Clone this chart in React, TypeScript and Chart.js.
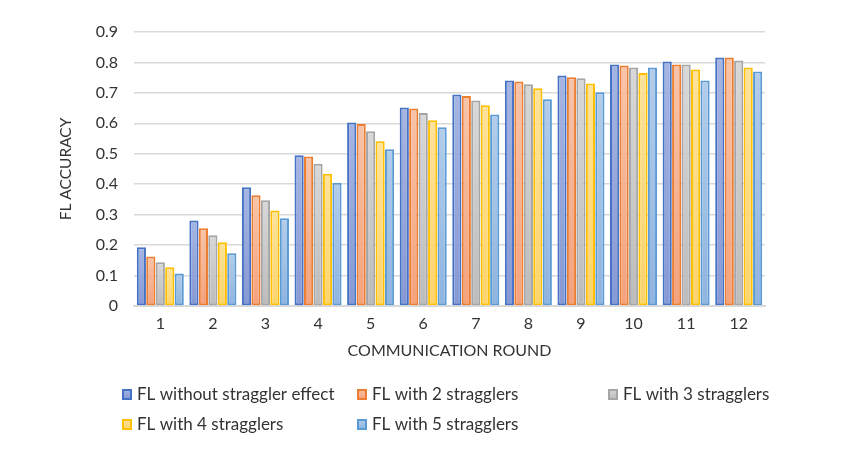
import React, { useEffect, useRef } from "react";
import { Chart, registerables } from "chart.js";

Chart.register(...registerables);

const rounds = ["1", "2", "3", "4", "5", "6", "7", "8", "9", "10", "11", "12"];
const noStraggler = [0.193, 0.281, 0.39, 0.495, 0.603, 0.652, 0.695, 0.741, 0.757, 0.793, 0.803, 0.816];
const twoStragglers = [0.163, 0.255, 0.364, 0.491, 0.598, 0.649, 0.69, 0.737, 0.751, 0.79, 0.793, 0.816];
const threeStragglers = [0.144, 0.232, 0.347, 0.467, 0.574, 0.634, 0.675, 0.728, 0.748, 0.783, 0.793, 0.806];
const fourStragglers = [0.127, 0.209, 0.314, 0.434, 0.541, 0.61, 0.659, 0.715, 0.731, 0.765, 0.777, 0.783];
const fiveStragglers = [0.107, 0.173, 0.288, 0.405, 0.515, 0.587, 0.629, 0.679, 0.702, 0.783, 0.741, 0.77];

const seriesNames = [
  "FL without straggler effect",
  "FL with 2 stragglers",
  "FL with 3 stragglers",
  "FL with 4 stragglers",
  "FL with 5 stragglers",
];
const seriesValues = [noStraggler, twoStragglers, threeStragglers, fourStragglers, fiveStragglers];
const borderColors = ["#4472C4", "#ED7D31", "#A5A5A5", "#FFC000", "#5B9BD5"];
const fillTop = ["#a6b5e2", "#f8c4a9", "#d8d8d8", "#ffe29b", "#b3cdea"];
const fillBottom = ["#8799d5", "#f4a27c", "#bcbcbc", "#ffd46c", "#8fb4df"];

const FONT = "Lato, 'Open Sans', sans-serif";
const TEXT = "#333333";

function gradFill(i: number) {
  return (c: any) => {
    const chart = c.chart;
    if (!chart.chartArea || c.type !== "data") return fillTop[i];
    const ys = chart.scales.y;
    const yTop = ys.getPixelForValue(c.parsed.y);
    const yBot = ys.getPixelForValue(0);
    if (!isFinite(yTop) || !isFinite(yBot) || yTop === yBot) return fillTop[i];
    const g = chart.ctx.createLinearGradient(0, yTop, 0, yBot);
    g.addColorStop(0, fillTop[i]);
    g.addColorStop(1, fillBottom[i]);
    return g;
  };
}

const legendPlugin = {
  id: "gridLegend",
  afterDraw(chart: any) {
    const ctx = chart.ctx;
    const cols = [122, 357, 608];
    const rows = [394, 424];
    ctx.save();
    ctx.font = `17px ${FONT}`;
    ctx.textBaseline = "middle";
    ctx.textAlign = "left";
    chart.data.datasets.forEach((ds: any, i: number) => {
      const x = cols[i % 3];
      const y = rows[Math.floor(i / 3)];
      const g = ctx.createLinearGradient(0, y - 5, 0, y + 5);
      g.addColorStop(0, fillTop[i]);
      g.addColorStop(1, fillBottom[i]);
      ctx.fillStyle = g;
      ctx.fillRect(x + 1, y - 4, 8, 9);
      ctx.strokeStyle = borderColors[i];
      ctx.lineWidth = 2;
      ctx.strokeRect(x + 1, y - 4, 8, 9);
      ctx.fillStyle = TEXT;
      ctx.fillText(ds.label, x + 15, y + 1);
    });
    ctx.restore();
  },
};

export default function App() {
  const ref = useRef<HTMLCanvasElement | null>(null);
  useEffect(() => {
    if (!ref.current) return;
    const chart = new Chart(ref.current, {
      type: "bar",
      data: {
        labels: rounds,
        datasets: seriesValues.map((vals, i) => ({
          label: seriesNames[i],
          data: vals,
          backgroundColor: gradFill(i),
          borderColor: borderColors[i],
          borderWidth: 2,
          borderSkipped: false,
          categoryPercentage: 0.9,
          barPercentage: 0.97,
        })),
      },
      options: {
        animation: false,
        responsive: true,
        maintainAspectRatio: false,
        layout: { padding: { left: 53, top: 32, right: 95, bottom: 102 } },
        plugins: { legend: { display: false }, tooltip: { enabled: false } },
        scales: {
          x: {
            grid: { display: false, drawTicks: false },
            border: { display: true, color: "#d9d9d9", width: 2 },
            ticks: { color: TEXT, font: { family: FONT, size: 16 }, padding: 8 },
            title: {
              display: true,
              text: "COMMUNICATION ROUND",
              color: TEXT,
              font: { family: FONT, size: 16 },
            },
            afterFit: (s: any) => {
              s.height = 58;
            },
          },
          y: {
            min: 0,
            max: 0.9,
            ticks: {
              stepSize: 0.1,
              color: TEXT,
              font: { family: FONT, size: 16 },
              padding: 16,
              callback: (v: any) => String(Math.round(Number(v) * 10) / 10),
            },
            grid: { color: "#d9d9d9", lineWidth: 1.5, drawTicks: false },
            border: { display: false },
            title: {
              display: true,
              text: "FL ACCURACY",
              color: TEXT,
              font: { family: FONT, size: 15.5 },
            },
            afterFit: (s: any) => {
              s.width = 81;
            },
          },
        },
      },
      plugins: [legendPlugin],
    });
    return () => chart.destroy();
  }, []);
  return (
    <div style={{ position: "absolute", left: 0, top: 0, width: 860, height: 466, background: "#fff" }}>
      <canvas ref={ref} />
    </div>
  );
}
